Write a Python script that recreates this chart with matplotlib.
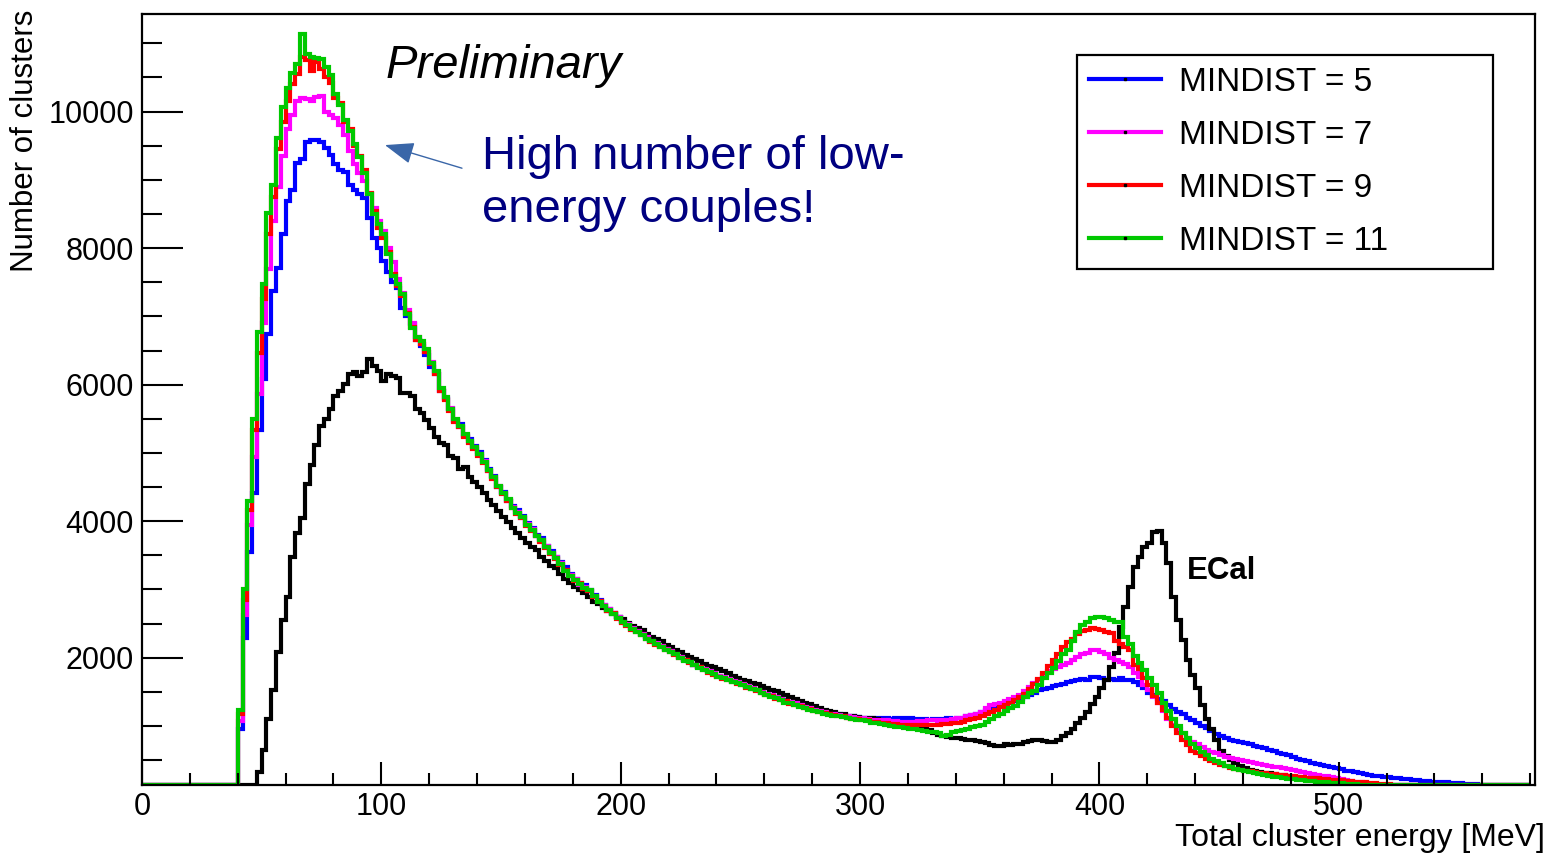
import numpy as np
import matplotlib
matplotlib.use("Agg")
import matplotlib.pyplot as plt
from matplotlib.lines import Line2D
from matplotlib.ticker import MultipleLocator

plt.rcParams["font.family"] = ["Liberation Sans", "DejaVu Sans"]

# ---------------------------------------------------------------------------
# Data: counts per 2 MeV bin (bins from 40 MeV)
# ---------------------------------------------------------------------------
BIN_WIDTH = 2.0
FIRST_FILLED = 40.0      # every bin below this is empty

# one row = 10 bins = 20 MeV, first row starts at 40 MeV
ecal = [
    0, 0, 0, 0, 320, 655, 1095, 1530, 2090, 2555,
    2890, 3470, 3820, 4040, 4550, 4820, 5110, 5400, 5500, 5650,
    5840, 5910, 6010, 6160, 6180, 6130, 6180, 6380, 6280, 6200,
    6060, 6160, 6130, 6100, 5880, 5880, 5840, 5650, 5580, 5475,
    5360, 5230, 5150, 5110, 4960, 4920, 4770, 4790, 4640, 4570,
    4500, 4410, 4310, 4230, 4150, 4060, 3990, 3900, 3820, 3760,
    3680, 3620, 3580, 3480, 3420, 3350, 3310, 3230, 3160, 3090,
    3040, 2990, 2950, 2890, 2820, 2790, 2730, 2690, 2640, 2600,
    2560, 2510, 2470, 2430, 2400, 2350, 2300, 2270, 2240, 2190,
    2150, 2120, 2080, 2040, 2010, 1980, 1950, 1910, 1880, 1860,
    1830, 1800, 1770, 1730, 1700, 1680, 1660, 1630, 1610, 1590,
    1560, 1530, 1510, 1480, 1450, 1430, 1400, 1370, 1340, 1320,
    1290, 1260, 1240, 1220, 1200, 1180, 1170, 1150, 1140, 1130,
    1120, 1120, 1110, 1100, 1090, 1070, 1060, 1040, 1030, 1020,
    1010, 1000, 980, 960, 940, 900, 870, 850, 840, 830,
    820, 810, 800, 790, 780, 760, 750, 720, 700, 710,
    730, 720, 730, 740, 760, 780, 800, 790, 780, 760,
    770, 800, 850, 900, 960, 1050, 1120, 1200, 1320, 1430,
    1560, 1680, 1870, 2070, 2450, 2745, 3040, 3330, 3470, 3620,
    3680, 3840, 3860, 3680, 3390, 2890, 2555, 2260, 1970, 1750,
    1560, 1300, 1100, 950, 800, 640, 560, 500, 450, 410,
    380, 360, 345, 330, 318, 305, 295, 285, 275, 265,
    255, 245, 235, 225, 215, 206, 198, 190, 182, 175,
    168, 161, 154, 148, 142, 136, 130, 125, 120, 115,
    110, 105, 100, 96, 92, 88, 84, 80, 76, 72,
    68, 64, 60, 57, 54, 51, 48, 45, 42, 40,
    38, 36, 34, 32, 30, 28, 26, 24, 22, 20,
]

mindist_5 = [
    950, 2290, 3550, 4410, 5330, 6090, 6740, 7370, 7710, 8200,
    8690, 8850, 9250, 9300, 9550, 9580, 9580, 9560, 9460, 9370,
    9230, 9150, 9120, 8930, 8850, 8790, 8730, 8440, 8150, 8000,
    7810, 7650, 7500, 7420, 7130, 7000, 6890, 6650, 6560, 6440,
    6260, 6150, 5900, 5790, 5640, 5470, 5420, 5250, 5200, 5100,
    5010, 4890, 4760, 4660, 4500, 4430, 4300, 4220, 4160, 4070,
    3970, 3900, 3800, 3750, 3640, 3560, 3480, 3400, 3330, 3230,
    3150, 3100, 3060, 2990, 2920, 2850, 2770, 2720, 2660, 2600,
    2540, 2500, 2440, 2390, 2350, 2300, 2250, 2220, 2170, 2130,
    2100, 2060, 2010, 1970, 1940, 1900, 1870, 1840, 1800, 1770,
    1730, 1710, 1690, 1660, 1640, 1610, 1580, 1560, 1530, 1500,
    1470, 1450, 1420, 1400, 1380, 1350, 1330, 1310, 1290, 1270,
    1250, 1230, 1210, 1200, 1180, 1170, 1160, 1150, 1140, 1130,
    1120, 1120, 1110, 1110, 1120, 1110, 1100, 1110, 1120, 1110,
    1110, 1100, 1100, 1100, 1090, 1100, 1100, 1100, 1110, 1100,
    1110, 1120, 1140, 1160, 1180, 1200, 1230, 1260, 1290, 1300,
    1320, 1340, 1360, 1390, 1420, 1460, 1490, 1520, 1540, 1560,
    1580, 1600, 1620, 1640, 1660, 1680, 1690, 1680, 1710, 1720,
    1700, 1680, 1690, 1670, 1700, 1680, 1680, 1650, 1600, 1560,
    1490, 1450, 1400, 1360, 1300, 1250, 1210, 1170, 1120, 1080,
    1040, 1000, 970, 920, 880, 850, 820, 800, 780, 770,
    750, 730, 710, 690, 670, 650, 630, 610, 590, 570,
    545, 520, 500, 480, 460, 440, 425, 410, 395, 380,
    365, 345, 335, 320, 305, 290, 280, 270, 262, 255,
    248, 240, 232, 225, 218, 210, 204, 198, 192, 186,
    180, 176, 172, 168, 164, 160, 155, 150, 145, 140,
    135, 130, 125, 120, 115, 110, 105, 100, 95, 90,
]

mindist_7 = [
    1070, 2630, 3940, 4940, 5870, 6900, 7700, 8400, 8900, 9350,
    9750, 9950, 10150, 10200, 10180, 10150, 10220, 10230, 10000, 9950,
    9900, 9800, 9660, 9420, 9230, 9100, 8980, 8800, 8590, 8400,
    8250, 8000, 7800, 7550, 7350, 7100, 6900, 6700, 6600, 6480,
    6330, 6180, 5920, 5800, 5660, 5480, 5380, 5260, 5170, 5090,
    4980, 4880, 4740, 4650, 4510, 4420, 4310, 4210, 4130, 4050,
    3960, 3880, 3790, 3730, 3630, 3540, 3470, 3380, 3290, 3210,
    3150, 3070, 3030, 2980, 2910, 2830, 2770, 2710, 2650, 2590,
    2530, 2490, 2430, 2390, 2340, 2300, 2250, 2210, 2170, 2130,
    2100, 2060, 2010, 1970, 1940, 1900, 1870, 1830, 1800, 1770,
    1730, 1710, 1690, 1660, 1640, 1610, 1580, 1560, 1530, 1500,
    1470, 1450, 1420, 1400, 1370, 1350, 1330, 1300, 1280, 1260,
    1240, 1220, 1200, 1180, 1170, 1160, 1150, 1140, 1130, 1120,
    1110, 1100, 1090, 1090, 1080, 1080, 1070, 1070, 1060, 1060,
    1060, 1060, 1070, 1070, 1080, 1080, 1070, 1080, 1090, 1100,
    1110, 1120, 1140, 1160, 1180, 1200, 1260, 1310, 1320, 1340,
    1360, 1390, 1420, 1460, 1510, 1570, 1630, 1680, 1740, 1800,
    1830, 1860, 1900, 1925, 1970, 2010, 2050, 2070, 2110, 2120,
    2090, 2060, 1990, 1960, 1930, 1910, 1860, 1780, 1720, 1600,
    1520, 1420, 1340, 1220, 1100, 1020, 960, 900, 830, 770,
    730, 690, 650, 620, 600, 570, 550, 530, 510, 495,
    480, 465, 450, 440, 430, 418, 405, 395, 380, 365,
    350, 335, 320, 305, 290, 280, 270, 260, 250, 240,
    225, 210, 195, 185, 175, 165, 155, 148, 141, 135,
    129, 124, 119, 114, 110, 106, 102, 98, 94, 90,
    86, 83, 80, 77, 74, 71, 68, 65, 62, 60,
    58, 56, 54, 52, 50, 48, 46, 44, 42, 40,
]

mindist_9 = [
    1180, 2850, 4160, 5330, 6470, 7250, 8200, 8750, 9450, 9850,
    10150, 10400, 10550, 10800, 10750, 10600, 10720, 10620, 10500, 10420,
    10200, 10120, 9850, 9740, 9500, 9350, 9150, 8810, 8540, 8300,
    8150, 7950, 7620, 7440, 7300, 7050, 6850, 6660, 6600, 6480,
    6300, 6150, 5900, 5780, 5620, 5450, 5380, 5230, 5150, 5060,
    4960, 4850, 4730, 4620, 4500, 4400, 4300, 4190, 4110, 4040,
    3930, 3850, 3790, 3700, 3600, 3520, 3450, 3360, 3280, 3190,
    3120, 3090, 3010, 2970, 2890, 2830, 2750, 2690, 2650, 2570,
    2510, 2470, 2410, 2370, 2330, 2270, 2230, 2190, 2160, 2110,
    2080, 2040, 2000, 1960, 1920, 1890, 1860, 1820, 1780, 1750,
    1720, 1690, 1670, 1650, 1620, 1600, 1560, 1540, 1510, 1480,
    1460, 1440, 1400, 1380, 1360, 1320, 1300, 1290, 1260, 1250,
    1220, 1200, 1190, 1170, 1160, 1140, 1140, 1120, 1100, 1100,
    1090, 1080, 1060, 1060, 1050, 1040, 1030, 1030, 1020, 1020,
    1020, 1020, 1010, 1020, 1020, 1010, 1020, 1030, 1030, 1040,
    1050, 1060, 1080, 1100, 1120, 1140, 1170, 1200, 1240, 1280,
    1300, 1340, 1380, 1420, 1470, 1540, 1620, 1690, 1780, 1880,
    1970, 2050, 2150, 2230, 2280, 2340, 2390, 2410, 2440, 2420,
    2400, 2380, 2360, 2240, 2200, 2150, 2120, 1900, 1830, 1700,
    1600, 1440, 1340, 1240, 1120, 1000, 900, 800, 720, 640,
    600, 560, 520, 490, 460, 430, 410, 390, 375, 360,
    345, 335, 325, 315, 305, 298, 290, 282, 275, 268,
    262, 256, 250, 244, 238, 232, 226, 220, 214, 208,
    202, 196, 190, 184, 178, 172, 166, 160, 154, 148,
    143, 138, 133, 128, 123, 118, 114, 110, 106, 102,
    98, 94, 90, 86, 82, 79, 76, 73, 70, 67,
    64, 61, 58, 56, 54, 52, 50, 48, 46, 44,
]

mindist_11 = [
    1240, 3000, 4300, 5500, 6770, 7470, 8510, 8930, 9610, 10070,
    10340, 10560, 10700, 11130, 10850, 10800, 10780, 10770, 10660, 10540,
    10260, 10100, 9880, 9710, 9520, 9340, 9100, 8790, 8500, 8350,
    8200, 7910, 7590, 7470, 7330, 7040, 6830, 6700, 6640, 6520,
    6320, 6200, 5950, 5820, 5650, 5500, 5400, 5280, 5180, 5080,
    4990, 4860, 4745, 4640, 4520, 4410, 4320, 4200, 4120, 4060,
    3950, 3870, 3780, 3720, 3620, 3530, 3460, 3370, 3270, 3200,
    3140, 3080, 3020, 2990, 2900, 2820, 2760, 2700, 2640, 2580,
    2525, 2480, 2420, 2380, 2330, 2280, 2240, 2200, 2150, 2120,
    2090, 2050, 1990, 1950, 1930, 1900, 1850, 1825, 1790, 1760,
    1710, 1700, 1680, 1650, 1635, 1600, 1570, 1540, 1530, 1490,
    1460, 1430, 1410, 1380, 1340, 1330, 1300, 1280, 1270, 1240,
    1220, 1200, 1180, 1160, 1150, 1140, 1130, 1120, 1095, 1090,
    1080, 1070, 1050, 1040, 1035, 1020, 1000, 990, 980, 970,
    960, 950, 940, 920, 910, 905, 890, 860, 870, 905,
    920, 940, 950, 980, 1000, 1020, 1060, 1100, 1140, 1170,
    1220, 1260, 1290, 1350, 1420, 1480, 1510, 1600, 1700, 1780,
    1850, 1950, 2050, 2120, 2250, 2380, 2480, 2530, 2580, 2590,
    2590, 2580, 2555, 2520, 2530, 2300, 2200, 2020, 1920, 1825,
    1700, 1600, 1480, 1340, 1220, 1095, 1000, 900, 820, 740,
    680, 620, 570, 520, 480, 450, 415, 395, 375, 350,
    335, 320, 305, 290, 280, 265, 255, 245, 235, 228,
    220, 212, 205, 198, 192, 186, 180, 175, 170, 165,
    160, 155, 150, 146, 142, 138, 134, 130, 126, 122,
    118, 114, 110, 106, 102, 98, 95, 92, 88, 85,
    82, 79, 76, 73, 70, 67, 64, 62, 60, 58,
    56, 54, 52, 50, 48, 46, 44, 42, 41, 40,
]

mindist_series = [mindist_5, mindist_7, mindist_9, mindist_11]
mindist_labels = ["MINDIST = 5", "MINDIST = 7", "MINDIST = 9", "MINDIST = 11"]
mindist_colors = ["#0000ff", "#ff00ff", "#ff0000", "#00c800"]

Y_LO, Y_HI = 135, 11430
X_HI = 582


def to_hist(vals):
    """Prepend the empty low-energy bins and return (counts, edges)."""
    n_empty = int(FIRST_FILLED / BIN_WIDTH)
    counts = np.concatenate([np.zeros(n_empty), np.asarray(vals, dtype=float)])
    edges = np.arange(len(counts) + 1) * BIN_WIDTH
    # ROOT draws under-range bins along the frame bottom
    return np.clip(counts, Y_LO, None), edges


# ---------------------------------------------------------------------------
# Figure
# ---------------------------------------------------------------------------
fig = plt.figure(figsize=(15.48, 8.55), dpi=100)
ax = fig.add_axes([142 / 1548, 70 / 855, 1393 / 1548, 771 / 855])

lw = 3.0
c, e = to_hist(mindist_5)
ax.stairs(c, e, color=mindist_colors[0], lw=lw, baseline=None)
c, e = to_hist(ecal)
ax.stairs(c, e, color="black", lw=lw, baseline=None)
for vals, col in zip(mindist_series[1:], mindist_colors[1:]):
    c, e = to_hist(vals)
    ax.stairs(c, e, color=col, lw=lw, baseline=None)

ax.set_xlim(0, X_HI)
ax.set_ylim(Y_LO, Y_HI)

# ROOT-like axes
for sp in ax.spines.values():
    sp.set_linewidth(1.6)
ax.xaxis.set_major_locator(MultipleLocator(100))
ax.xaxis.set_minor_locator(MultipleLocator(20))
ax.yaxis.set_major_locator(MultipleLocator(2000))
ax.yaxis.set_minor_locator(MultipleLocator(500))
ax.tick_params(which="both", direction="in", top=False, right=False,
               width=1.5, labelsize=22)
ax.tick_params(axis="x", which="major", length=16.5, pad=5)
ax.tick_params(axis="x", which="minor", length=8.5)
ax.tick_params(axis="y", which="major", length=29.5, pad=6)
ax.tick_params(axis="y", which="minor", length=14.5)

fig.text(25 / 1548, 1 - 10 / 855, "Number of clusters", rotation=90,
         ha="center", va="top", fontsize=22.5)
fig.text(1545 / 1548, 1 - 838 / 855, "Total cluster energy [MeV]",
         ha="right", va="center", fontsize=23)

# legend
handles = [Line2D([], [], color=col, lw=lw, marker="s", markersize=2,
                  markerfacecolor="black", markeredgecolor="black")
           for col in mindist_colors]
leg = ax.legend(handles, mindist_labels, loc="upper left",
                bbox_to_anchor=(0.671, 0.6706, 0.299, 0.2763), mode="expand",
                borderaxespad=0, fontsize=24, handlelength=2.16,
                handletextpad=0.55, labelspacing=0.66, borderpad=0.36,
                fancybox=False, framealpha=1, edgecolor="black")
leg.get_frame().set_linewidth(1.6)

# annotations
ax.text(0.175, 0.917, "Preliminary", transform=ax.transAxes, fontsize=34,
        style="italic", va="baseline")
ax.text(0.244, 0.799, "High number of low-", transform=ax.transAxes,
        fontsize=34, color="#000080", va="baseline")
ax.text(0.244, 0.730, "energy couples!", transform=ax.transAxes,
        fontsize=34, color="#000080", va="baseline")
ax.annotate("", xy=(0.1744, 0.830), xytext=(0.2297, 0.800),
            xycoords="axes fraction", textcoords="axes fraction",
            arrowprops=dict(arrowstyle="-|>,head_length=1.2,head_width=0.45",
                            color="#3a66a8", lw=1.0, mutation_scale=15,
                            shrinkA=0, shrinkB=0))
ax.text(0.750, 0.267, "ECal", transform=ax.transAxes, fontsize=22.5,
        fontweight="bold", va="baseline")

fig.savefig("out.png", dpi=100)
plt.close(fig)
